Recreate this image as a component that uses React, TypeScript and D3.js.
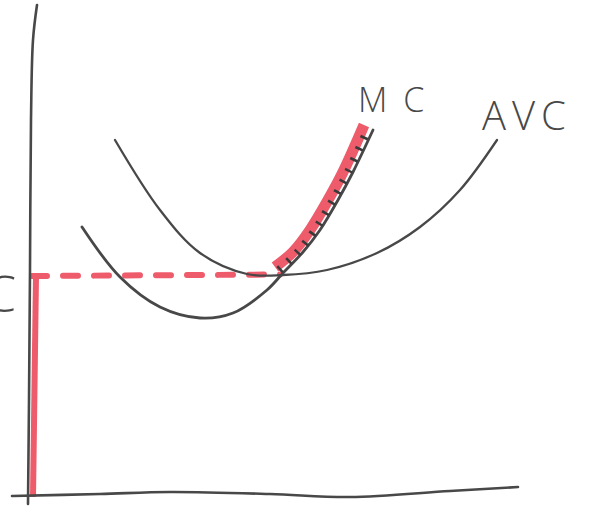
import React from "react";
import * as d3 from "d3";

// Data space: quantity (x) 0..100, cost (y) 0..100
const avcCurve: [number, number][] = [
  [17.4, 71.2], [26.4, 57.2], [34.4, 48.6], [43.8, 44.4], [51, 44.2],
  [59.8, 45.2], [69.8, 48.6], [78.4, 53.8], [86.4, 61.2], [93.8, 71.2],
];
const mcCurve: [number, number][] = [
  [10.8, 53.8], [18.4, 43.8], [26.4, 37.8], [34.4, 35.6], [41, 36.6],
  [47.8, 41.2], [51, 44.6], [55, 48.8], [58.4, 53.2], [62, 59.2], [65, 64.8], [69, 73.2],
];
const supplyCurve: [number, number][] = [
  [49.4, 45.8], [53, 48.8], [56.4, 53.2], [60, 59.2], [63, 64.8], [67.2, 74.2],
];
const hatchCurve: [number, number][] = [
  [50.2, 45.2], [54, 48.8], [57.4, 53.2], [61, 59.2], [64, 64.8], [68, 73.4],
];
const yAxisPts: [number, number][] = [
  [1.8, 98.2], [1.0, 91.2], [0.6, 75.2], [0.4, 45.2], [0.2, 19.2], [0, -1.6],
];
const xAxisPts: [number, number][] = [
  [-3.2, 0], [14.4, 0.4], [28.4, 0.8], [48.4, 0.4], [64.4, -0.2], [84.4, 1], [98, 1.8],
];
const shutdownPrice = 44;
const shutdownQty = 50.4;
const priceLine: [number, number][] = [[0.8, shutdownPrice], [shutdownQty, shutdownPrice + 0.3]];
const redAxis: [number, number][] = [[1.6, shutdownPrice], [1.0, -0.2]];

const labels = [
  { text: "MC", x: 66, y: 76.8, size: 34, spacing: 16 },
  { text: "AVC", x: 90.8, y: 73.2, size: 40, spacing: 6 },
  { text: "C", x: -8.6, y: 36.8, size: 50, spacing: 0 },
];

const W = 589;
const H = 508;
const x = d3.scaleLinear().domain([0, 100]).range([28, 528]);
const y = d3.scaleLinear().domain([0, 100]).range([496, -4]);

const line = d3
  .line<[number, number]>()
  .x((d) => x(d[0]))
  .y((d) => y(d[1]))
  .curve(d3.curveCatmullRom.alpha(0.5));

const INK = "#484848";
const RED = "#ee5b6b";

export default function App() {
  return (
    <svg
      width={W}
      height={H}
      style={{ position: "absolute", left: 0, top: 0, background: "#fff" }}
    >
      {/* red price-level pieces */}
      <path d={line(redAxis) || ""} fill="none" stroke={RED} strokeWidth={6} />
      <path
        d={line(priceLine) || ""}
        fill="none"
        stroke={RED}
        strokeWidth={6}
        strokeDasharray="15 16"
        strokeLinecap="round"
      />
      {/* supply band */}
      <path d={line(supplyCurve) || ""} fill="none" stroke={RED} strokeWidth={11} />

      {/* axes */}
      <path d={line(yAxisPts) || ""} fill="none" stroke={INK} strokeWidth={2.6} strokeLinecap="round" />
      <path d={line(xAxisPts) || ""} fill="none" stroke={INK} strokeWidth={2.6} strokeLinecap="round" />

      {/* curves */}
      <path d={line(avcCurve) || ""} fill="none" stroke={INK} strokeWidth={2.3} strokeLinecap="round" />
      <path d={line(mcCurve) || ""} fill="none" stroke={INK} strokeWidth={2.8} strokeLinecap="round" />
      <path
        d={line(hatchCurve) || ""}
        fill="none"
        stroke="#3a3a3a"
        strokeWidth={8}
        strokeDasharray="2.6 9.5"
      />

      {labels.map((l) => (
        <text
          key={l.text}
          x={x(l.x)}
          y={y(l.y)}
          fontFamily="'Open Sans', sans-serif"
          fontWeight={300}
          fontSize={l.size}
          letterSpacing={l.spacing}
          fill={INK}
        >
          {l.text}
        </text>
      ))}
    </svg>
  );
}
